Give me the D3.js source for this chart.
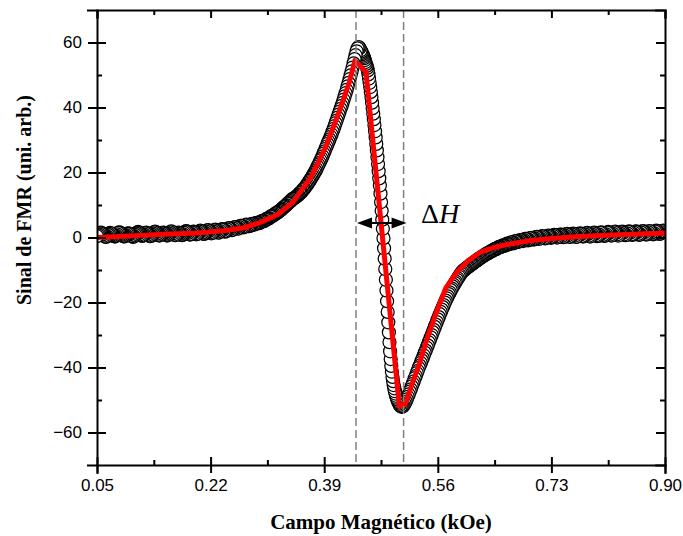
<!DOCTYPE html>
<html>
<head>
<meta charset="utf-8">
<script src="https://cdn.jsdelivr.net/npm/d3@7"></script>
<style>
  body { margin: 0; background: #fff; }
  .tick text { font-family: "Liberation Sans", Arial, sans-serif; font-size: 17px; fill: #000; }
  .tick line, .domain { stroke: #000; stroke-width: 2px; }
</style>
</head>
<body>
<svg id="chart" width="683" height="536"></svg>
<script>
// campo (kOe): cada trecho comeca em sweepStart com passo sweepStep
const sweepStart = [0.05, 0.3485, 0.4454, 0.503, 0.599];
const sweepStep = [0.0015, 0.0015, 0.0009, 0.0015, 0.0015];

const signalA = [
  0.4, 0.7, 1.0, 1.3, 1.5, 1.3, 1.0, 0.6, 0.3, 0.2,
  0.4, 0.8, 1.1, 1.4, 1.2, 0.9, 0.7, 0.4, 0.3, 0.6,
  1.0, 1.4, 1.6, 1.5, 1.1, 0.8, 0.5, 0.3, 0.5, 0.7,
  1.1, 1.3, 1.2, 1.0, 0.6, 0.4, 0.2, 0.4, 0.8, 1.2,
  1.5, 1.7, 1.4, 1.0, 0.7, 0.5, 0.6, 0.9, 1.3, 1.5,
  1.3, 0.9, 0.6, 0.4, 0.5, 0.8, 1.2, 1.6, 1.8, 1.6,
  1.2, 0.8, 0.6, 0.7, 1.0, 1.3, 1.5, 1.4, 1.1, 0.8,
  0.6, 0.8, 1.2, 1.6, 1.9, 1.7, 1.3, 0.9, 0.7, 0.9,
  1.2, 1.5, 1.4, 1.1, 0.8, 0.7, 1.0, 1.4, 1.8, 2.0,
  1.8, 1.4, 1.0, 0.9, 1.1, 1.5, 1.8, 1.7, 1.3, 1.0,
  1.1, 1.4, 1.8, 2.1, 1.9, 1.5, 1.2, 1.1, 1.4, 1.8,
  2.2, 2.3, 2.0, 1.6, 1.3, 1.4, 1.8, 2.2, 2.4, 2.2,
  1.8, 1.5, 1.6, 2.0, 2.4, 2.6, 2.4, 2.0, 1.8, 2.0,
  2.4, 2.8, 2.9, 2.6, 2.3, 2.3, 2.7, 3.1, 3.2, 2.9,
  2.7, 2.8, 3.2, 3.6, 3.6, 3.3, 3.1, 3.3, 3.7, 4.0,
  3.7, 3.5, 3.5, 3.8, 4.1, 4.2, 4.0, 4.0, 4.2, 4.5,
  4.5, 4.4, 4.4, 4.7, 5.0, 5.1, 5.0, 5.1, 5.5, 5.7,
  5.8, 5.8, 6.0, 6.4, 6.6, 6.6, 6.8, 7.1, 7.4, 7.5,
  7.6, 7.9, 8.2, 8.4, 8.6, 8.9, 9.3, 9.5, 9.7, 10.0,
  10.4, 10.6, 10.9, 11.2, 11.5, 11.8, 12.0, 12.2, 12.4
];
const signalB = [
  12.6, 12.9, 13.1, 13.6, 13.8, 14.0, 14.5, 14.9, 15.1, 15.6,
  16.0, 16.4, 17.0, 17.4, 17.9, 18.4, 18.9, 19.4, 20.0, 20.5,
  21.1, 21.8, 22.4, 23.0, 23.7, 24.3, 25.0, 25.8, 26.5, 27.3,
  28.0, 28.8, 29.5, 30.2, 31.0, 31.7, 32.6, 33.4, 34.3, 35.2,
  36.0, 36.9, 37.8, 38.7, 39.6, 40.5, 41.4, 42.4, 43.4, 44.4,
  45.4, 46.5, 47.6, 48.7, 49.9, 51.1, 52.3, 53.6, 54.9, 56.1,
  57.3, 58.2, 58.6, 58.3, 57.6
];
const signalC = [
  57.2, 56.8, 56.4, 56.0, 55.6, 55.2, 54.6, 54.0, 53.4, 52.8,
  52.2, 51.4, 50.2, 48.9, 47.6, 46.3, 44.8, 43.2, 41.5, 39.8,
  38.1, 36.4, 34.6, 32.7, 30.8, 28.8, 26.8, 24.7, 22.6, 20.4,
  18.2, 16.0, 13.5, 10.9, 8.2, 5.5, 2.7, -0.2, -3.3, -6.5,
  -9.7, -13.0, -16.3, -19.6, -22.9, -26.1, -29.2, -32.2, -35.0, -37.4,
  -39.5, -41.3, -42.9, -44.2, -45.4, -46.4, -47.3, -48.0, -48.7, -49.3,
  -49.8, -50.3, -50.7, -51.1
];
const signalD = [
  -51.5, -51.9, -52.1, -52.0, -51.7, -51.1, -50.5, -49.8, -49.0, -48.3,
  -47.4, -46.7, -45.8, -45.0, -44.3, -43.3, -42.6, -41.7, -41.0, -40.1,
  -39.4, -38.6, -37.8, -37.1, -36.3, -35.4, -34.8, -33.9, -33.2, -32.3,
  -31.6, -30.7, -30.0, -29.1, -28.4, -27.5, -26.8, -26.0, -25.2, -24.5,
  -23.6, -22.9, -22.2, -21.4, -20.8, -20.0, -19.4, -18.7, -18.1, -17.4,
  -16.9, -16.2, -15.7, -15.1, -14.6, -14.0, -13.6, -13.0, -12.6, -12.0,
  -11.6, -11.1, -10.7, -10.3
];
const signalE = [
  -10.1, -9.8, -9.6, -9.3, -9.1, -8.9, -8.6, -8.3, -8.2, -8.0,
  -7.7, -7.4, -7.3, -7.1, -6.8, -6.5, -6.4, -6.2, -5.9, -5.7,
  -5.6, -5.4, -5.1, -4.9, -4.9, -4.7, -4.4, -4.2, -4.2, -4.0,
  -3.7, -3.5, -3.6, -3.4, -3.1, -2.9, -3.0, -2.9, -2.6, -2.4,
  -2.5, -2.5, -2.2, -1.9, -2.0, -2.1, -1.8, -1.5, -1.6, -1.8,
  -1.6, -1.2, -1.1, -1.3, -1.4, -1.1, -0.8, -0.8, -1.0, -1.1,
  -0.8, -0.4, -0.4, -0.7, -0.9, -0.7, -0.3, -0.1, -0.3, -0.6,
  -0.6, -0.3, 0.1, 0.2, -0.1, -0.4, -0.3, 0.1, 0.4, 0.3,
  -0.1, -0.3, -0.1, 0.3, 0.6, 0.5, 0.1, -0.1, 0.1, 0.5,
  0.8, 0.7, 0.3, 0.0, 0.2, 0.6, 0.9, 0.9, 0.5, 0.1,
  0.2, 0.6, 1.0, 1.1, 0.7, 0.3, 0.2, 0.5, 0.9, 1.2,
  1.0, 0.6, 0.2, 0.3, 0.7, 1.1, 1.3, 1.0, 0.5, 0.3,
  0.5, 0.9, 1.3, 1.4, 1.1, 0.6, 0.3, 0.5, 0.9, 1.3,
  1.5, 1.2, 0.7, 0.4, 0.5, 0.9, 1.4, 1.6, 1.3, 0.8,
  0.5, 0.6, 1.0, 1.5, 1.7, 1.4, 0.9, 0.6, 0.7, 1.1,
  1.6, 1.8, 1.5, 1.0, 0.6, 0.8, 1.2, 1.6, 1.8, 1.5,
  1.0, 0.7, 0.8, 1.3, 1.7, 1.9, 1.5, 1.0, 0.8, 1.0,
  1.4, 1.8, 1.9, 1.6, 1.1, 0.8, 1.0, 1.5, 1.9, 2.0,
  1.6, 1.1, 0.9, 1.1, 1.6, 2.0, 1.9, 1.5, 1.1, 1.0,
  1.3, 1.8, 2.1, 1.9, 1.4, 1.1, 1.2, 1.6, 2.0, 2.1,
  1.7
];

// ajuste (linha vermelha): [campo, sinal]
const fitCurve = [
  [0.05, 0.0], [0.10, 0.5], [0.15, 1.0], [0.20, 1.4], [0.24, 2.1],
  [0.27, 3.0], [0.294, 4.6], [0.32, 7.0], [0.343, 10.8], [0.371, 18.8],
  [0.3926, 28.0], [0.412, 38.5], [0.4275, 47.7], [0.436, 54.5], [0.4526, 50.8],
  [0.5025, -52.0], [0.511, -51.4], [0.52, -46.0], [0.533, -38.5], [0.545, -30.5],
  [0.558, -23.0], [0.572, -15.5], [0.588, -10.8], [0.605, -7.2], [0.623, -4.6],
  [0.645, -3.0], [0.668, -2.0], [0.70, -0.9], [0.73, -0.3], [0.77, 0.3],
  [0.82, 0.8], [0.86, 1.1], [0.90, 1.4]
];

// linhas tracejadas (pico e vale) e eixos
const markerField = [0.4376, 0.5088];
const xMajor = [0.05, 0.22, 0.39, 0.56, 0.73, 0.90];
const xMinor = [0.135, 0.305, 0.475, 0.645, 0.815];
const yMajor = [-60, -40, -20, 0, 20, 40, 60];
const yMinor = [-50, -30, -10, 10, 30, 50];

const signals = [signalA, signalB, signalC, signalD, signalE];
const measured = [];
signals.forEach((s, k) => {
  s.forEach((v, i) => measured.push([sweepStart[k] + i * sweepStep[k], v]));
});

const svg = d3.select("#chart");
const plotL = 97, plotR = 665, plotT = 10, plotB = 465;

const x = d3.scaleLinear().domain([0.05, 0.90]).range([plotL, plotR]);
const y = d3.scaleLinear().domain([-70, 70]).range([plotB, plotT]);

svg.append("defs").append("clipPath").attr("id", "plot")
  .append("rect").attr("x", plotL).attr("y", plotT)
  .attr("width", plotR - plotL).attr("height", plotB - plotT);

// circulos (desenhados do campo alto para o baixo)
svg.append("g").attr("clip-path", "url(#plot)")
  .selectAll("circle")
  .data(measured.slice().reverse())
  .join("circle")
  .attr("cx", (d) => x(d[0]))
  .attr("cy", (d) => y(d[1]))
  .attr("r", 6.5)
  .attr("fill", "#fff")
  .attr("stroke", "#000")
  .attr("stroke-width", 1.25);

// linha do ajuste
svg.append("path")
  .datum(fitCurve)
  .attr("clip-path", "url(#plot)")
  .attr("fill", "none")
  .attr("stroke", "#ff0000")
  .attr("stroke-width", 5)
  .attr("stroke-linejoin", "round")
  .attr("d", d3.line().x((d) => x(d[0])).y((d) => y(d[1])));

// tracejadas
svg.append("g").selectAll("line")
  .data(markerField)
  .join("line")
  .attr("x1", (d) => x(d)).attr("x2", (d) => x(d))
  .attr("y1", plotT).attr("y2", plotB)
  .attr("stroke", "#808080")
  .attr("stroke-width", 1.5)
  .attr("stroke-dasharray", "8,4");

// seta ΔH
const arrowY = 223;
const x0 = x(markerField[0]), x1 = x(markerField[1]);
svg.append("line")
  .attr("x1", x0 + 8).attr("x2", x1 - 8)
  .attr("y1", arrowY).attr("y2", arrowY)
  .attr("stroke", "#000").attr("stroke-width", 2);
svg.append("path")
  .attr("d", `M${x0 + 1},${arrowY} l15,-5.5 l0,11 Z M${x1 + 3},${arrowY} l-15,-5.5 l0,11 Z`)
  .attr("fill", "#000");
const dh = svg.append("text")
  .attr("x", 421).attr("y", 223)
  .attr("font-family", "'Liberation Serif', 'Times New Roman', serif")
  .attr("font-size", 28);
dh.append("tspan").text("Δ");
dh.append("tspan").attr("font-style", "italic").text("H");

// eixos
const fmt = d3.format(".2f");
svg.append("g").attr("transform", `translate(0,${plotB})`)
  .call(d3.axisBottom(x).tickValues(xMajor).tickSize(8).tickPadding(6).tickFormat(fmt));
svg.append("g").attr("transform", `translate(0,${plotB})`)
  .call(d3.axisTop(x).tickValues(xMajor).tickSize(8).tickFormat(""))
  .call((g) => g.select(".domain").remove());
svg.append("g").attr("transform", `translate(0,${plotB})`)
  .call(d3.axisTop(x).tickValues(xMinor).tickSize(5).tickFormat(""))
  .call((g) => g.select(".domain").remove());
svg.append("g").attr("transform", `translate(0,${plotT})`)
  .call(d3.axisBottom(x).tickValues(xMajor).tickSize(8).tickFormat(""));
svg.append("g").attr("transform", `translate(0,${plotT})`)
  .call(d3.axisBottom(x).tickValues(xMinor).tickSize(5).tickFormat(""))
  .call((g) => g.select(".domain").remove());

svg.append("g").attr("transform", `translate(${plotL},0)`)
  .call(d3.axisLeft(y).tickValues(yMajor).tickSize(9).tickPadding(6));
svg.append("g").attr("transform", `translate(${plotL},0)`)
  .call(d3.axisRight(y).tickValues(yMajor).tickSize(9).tickFormat(""))
  .call((g) => g.select(".domain").remove());
svg.append("g").attr("transform", `translate(${plotL},0)`)
  .call(d3.axisRight(y).tickValues(yMinor).tickSize(5).tickFormat(""))
  .call((g) => g.select(".domain").remove());
svg.append("g").attr("transform", `translate(${plotR},0)`)
  .call(d3.axisLeft(y).tickValues(yMajor).tickSize(9).tickFormat(""));
svg.append("g").attr("transform", `translate(${plotR},0)`)
  .call(d3.axisLeft(y).tickValues(yMinor).tickSize(5).tickFormat(""))
  .call((g) => g.select(".domain").remove());

svg.selectAll(".domain").attr("stroke-linecap", "square");

// titulos
svg.append("text")
  .attr("x", (plotL + plotR) / 2).attr("y", 529)
  .attr("text-anchor", "middle")
  .attr("font-family", "'Liberation Serif', 'Times New Roman', serif")
  .attr("font-weight", "bold").attr("font-size", 21)
  .text("Campo Magnético (kOe)");
svg.append("text")
  .attr("transform", "translate(31,200) rotate(-90)")
  .attr("text-anchor", "middle")
  .attr("font-family", "'Liberation Serif', 'Times New Roman', serif")
  .attr("font-weight", "bold").attr("font-size", 20)
  .text("Sinal de FMR (uni. arb.)");
</script>
</body>
</html>
